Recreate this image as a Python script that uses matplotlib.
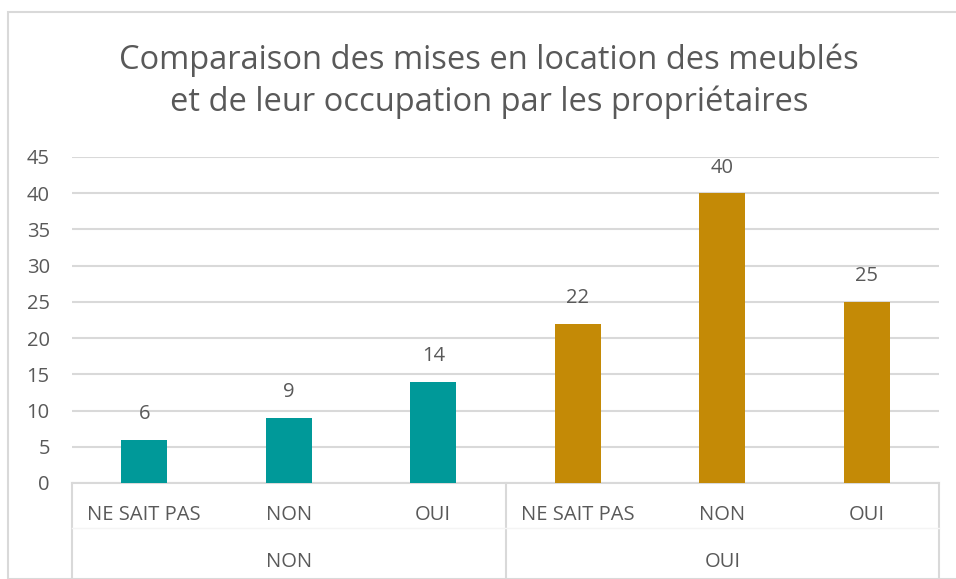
import matplotlib.pyplot as plt
from matplotlib.patches import Rectangle

plt.rcParams['font.family'] = ['Open Sans', 'DejaVu Sans']

# data
groups = ['NON', 'OUI']
answers = ['NE SAIT PAS', 'NON', 'OUI']
values_non = [6, 9, 14]
values_oui = [22, 40, 25]
colors = ['#009999', '#C48A06']
yticks = [0, 5, 10, 15, 20, 25, 30, 35, 40, 45]

text_color = '#595959'
grid_color = '#D9D9D9'

W, H = 956, 579
fig = plt.figure(figsize=(W / 100, H / 100), dpi=100)

# outer chart border (partially cropped in the original)
fig.patches.append(Rectangle((8 / W, 0), 1.0, 1 - 12 / H, transform=fig.transFigure,
                             fill=False, edgecolor=grid_color, linewidth=1.5))

ax = fig.add_axes([72 / W, 1 - 483 / H, (939 - 72) / W, (483 - 157) / H])

n = len(answers)
xs = list(range(2 * n))
vals = values_non + values_oui
cols = [colors[0]] * n + [colors[1]] * n
bars = ax.bar(xs, vals, width=0.32, color=cols, zorder=3)
for b, v in zip(bars, vals):
    ax.annotate(str(v), (b.get_x() + b.get_width() / 2, v), xytext=(0, 18.5),
                textcoords='offset points', ha='center', va='center',
                fontsize=14.5, color=text_color)

ax.set_xlim(-0.5, 2 * n - 0.5)
ax.set_ylim(0, 45)
ax.set_yticks(yticks)
ax.set_yticklabels([str(t) for t in yticks], fontsize=14.5, color=text_color)
ax.tick_params(axis='y', length=0, pad=16)
ax.tick_params(axis='x', length=0)
ax.set_xticks([])
ax.yaxis.grid(True, color=grid_color, linewidth=1.5, zorder=0)
for s in ['top', 'right', 'left']:
    ax.spines[s].set_visible(False)
ax.spines['bottom'].set_color(grid_color)
ax.spines['bottom'].set_linewidth(1.5)

# two-level category labels
trans = ax.get_xaxis_transform()
y1 = -(515 - 483) / (483 - 157)
y2 = -(562 - 483) / (483 - 157)
ybot = -(579 - 483) / (483 - 157)
for i, x in enumerate(xs):
    ax.text(x, y1, answers[i % n], transform=trans, ha='center', va='center',
            fontsize=14.5, color=text_color)
for g, name in enumerate(groups):
    ax.text(g * n + (n - 1) / 2, y2, name, transform=trans, ha='center', va='center',
            fontsize=14.5, color=text_color)
for xsep in [-0.5, n - 0.5, 2 * n - 0.5]:
    ax.plot([xsep, xsep], [0, ybot], transform=trans, color=grid_color,
            linewidth=1.5, clip_on=False)
ax.plot([-0.5, 2 * n - 0.5], [-(528 - 483) / (483 - 157)] * 2, transform=trans,
        color='#F4F4F4', linewidth=1, clip_on=False)

fig.text(489 / W, 1 - 81 / H,
         'Comparaison des mises en location des meublés\net de leur occupation par les propriétaires',
         ha='center', va='center', fontsize=23.5, color=text_color, linespacing=1.32)

fig.savefig('out.png', dpi=100)
